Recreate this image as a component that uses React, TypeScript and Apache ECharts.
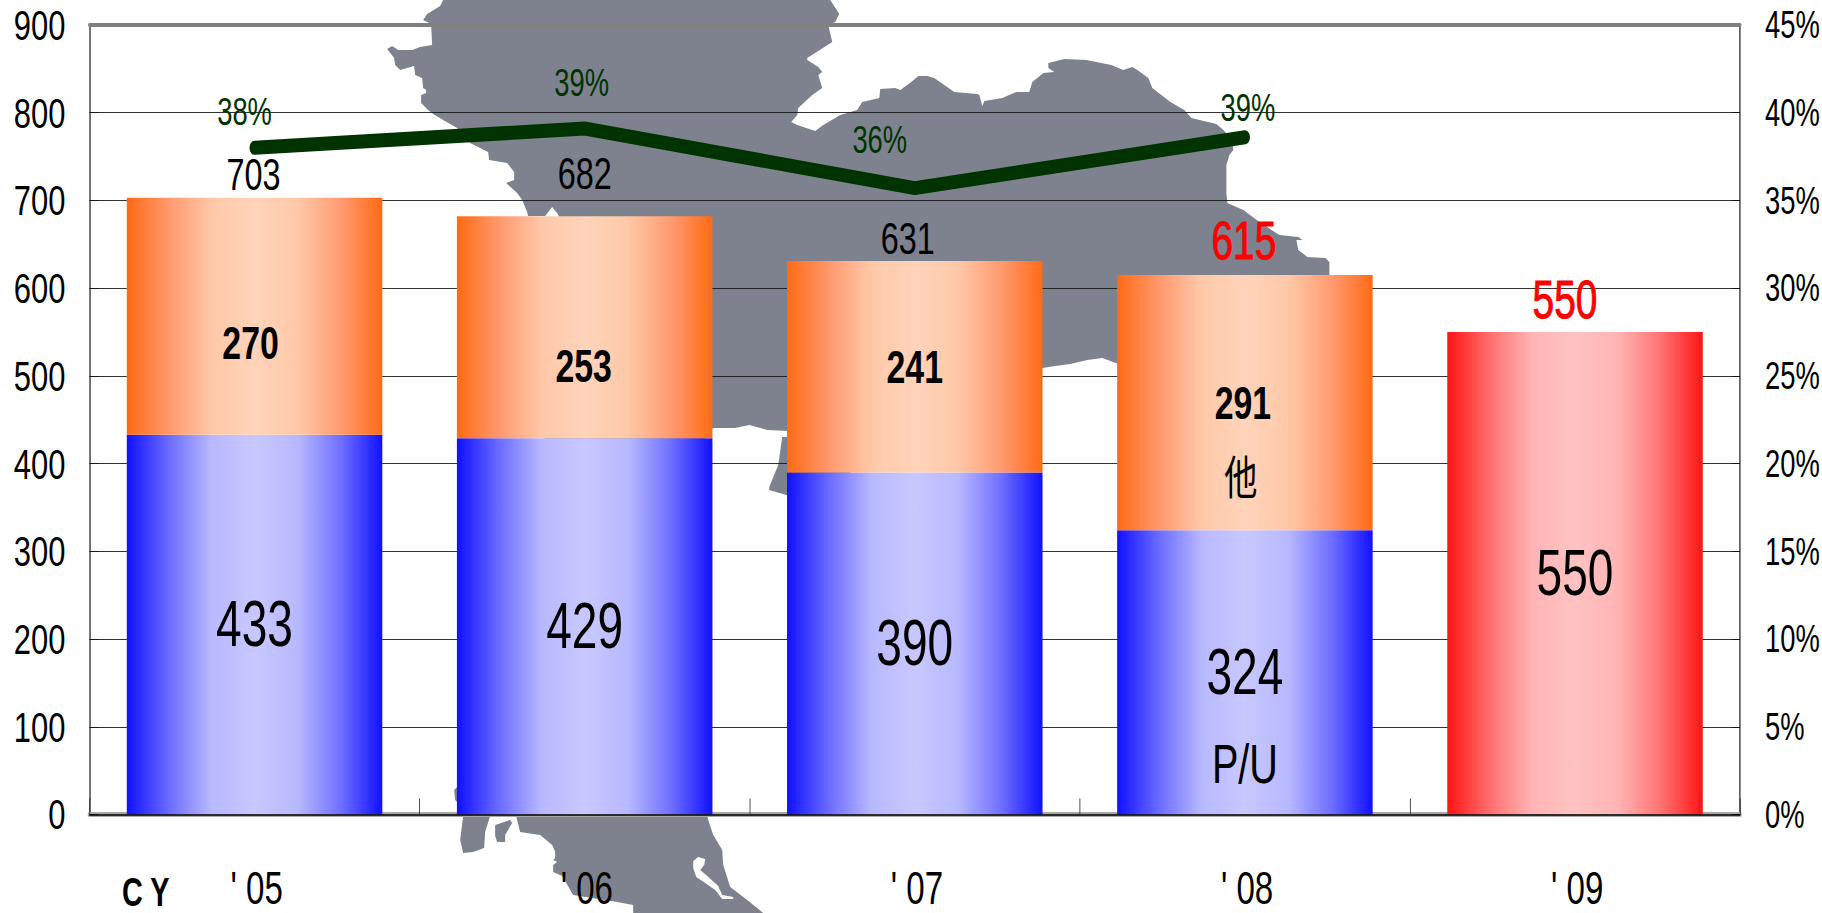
import React, { useEffect, useRef } from "react";
import * as echarts from "echarts";

const categories = ["' 05", "' 06", "' 07", "' 08", "' 09"];
const puValues = [433, 429, 390, 324, null];
const otherValues = [270, 253, 241, 291, null];
const forecastValues = [null, null, null, null, 550];
const totals = [703, 682, 631, 615, 550];
const ratioValues = [38, 39.1, 35.7, 38.6, null];
const ratioLabels = ["38%", "39%", "36%", "39%"];
const leftMax = 900;
const rightMax = 45;
const segmentNotes = [
  { text: "P/U", category: 3, value: 57 },
  { text: "他", category: 3, value: 384 },
];

// The reference is a horizontally squeezed picture: the chart is drawn wide and squeezed the same way.
const WIDE = 2530;
const SQUEEZE = 1822 / WIDE;
const sx = (px: number) => px / SQUEEZE;

const totalOffsets = [[-1, -23], [0, -43], [-7, -22], [-1, -35], [-10, -33]];
const otherOffsets = [[-4, 27], [-1, 39], [0, 0], [-2, 0]];
const ratioOffsets = [[-10, -36], [-3, -46], [-35, -48], [3, -29]];
const noteStyles = [
  { fontSize: 55, dx: 0 },
  { fontSize: 46, dx: -4 },
];

const mapOutline = [
  [443,0],[440,6],[427,14],[423,20],[431,24],[432,45],[420,47],[412,50],[398,50],[392,46],[387,49],[394,58],[395,65],[400,70],[407,68],[414,66],[415,75],[422,78],[423,88],[426,90],[426,93],[421,95],[421,103],[428,110],[433,114],[443,120],[457,128],[470,143],[488,152],[489,160],[507,163],[514,172],[514,180],[506,183],[517,193],[522,200],[527,212],[528,216],[545,216],[552,207],[557,213],[600,300],[520,500],[510,812],[516,816],[520,832],[540,835],[552,845],[555,852],[555,858],[553,860],[557,862],[553,865],[553,872],[562,876],[573,895],[617,902],[633,905],[633,913],[763,913],[747,900],[730,887],[723,865],[722,850],[713,835],[708,820],[707,816],[705,430],[714,428],[735,428],[749,425],[767,430],[789,431],[800,431],[789,437],[782,437],[779,458],[778,465],[769,487],[769,490],[786,495],[795,497],[900,450],[1042,368],[1055,366],[1070,364],[1087,360],[1102,358],[1118,364],[1200,400],[1329,278],[1329,262],[1325,258],[1307,257],[1298,250],[1296,240],[1302,240],[1298,237],[1279,235],[1259,222],[1243,210],[1227,203],[1226,193],[1226,165],[1229,155],[1233,150],[1232,140],[1223,130],[1216,124],[1191,118],[1184,110],[1170,102],[1152,88],[1148,78],[1137,70],[1132,67],[1123,70],[1111,65],[1086,60],[1064,59],[1048,63],[1048,68],[1054,72],[1043,73],[1032,82],[1029,92],[1016,92],[1002,98],[984,101],[982,106],[979,95],[977,94],[954,92],[934,78],[927,76],[918,76],[911,82],[900,90],[895,88],[880,89],[879,98],[862,102],[857,110],[840,115],[823,125],[815,131],[797,125],[791,122],[797,115],[798,108],[812,95],[822,88],[818,75],[822,72],[818,67],[807,60],[807,58],[832,42],[828,25],[835,22],[839,14],[830,0],
];
const mapIslands = [
  [[463,816],[460,840],[463,853],[473,852],[484,848],[485,832],[490,816]],
  [[495,825],[510,820],[512,823],[505,835],[505,842],[497,842],[495,836]],
  [[458,786],[454,790],[455,800],[458,803]],
];
const mapLake = [[693,861],[698,857],[705,859],[704,865],[700,870],[707,876],[718,886],[722,895],[733,897],[733,899],[722,899],[715,890],[705,883],[696,877],[693,868]];

const FONT = "'Liberation Sans', Arial, 'Noto Sans CJK JP', sans-serif";
const MAP = "#7d828e";

const hGrad = (edge: string, mid: string, soft: string, center: string) => ({
  type: "linear", x: 0, y: 0, x2: 1, y2: 0,
  colorStops: [
    { offset: 0, color: edge }, { offset: 0.17, color: mid }, { offset: 0.33, color: soft },
    { offset: 0.5, color: center }, { offset: 0.67, color: soft }, { offset: 0.84, color: mid },
    { offset: 1, color: edge },
  ],
});
const hidden = { color: "transparent", opacity: 1 };

export default function App() {
  const ref = useRef<HTMLDivElement>(null);
  useEffect(() => {
    const chart = echarts.init(ref.current!, undefined, { renderer: "svg" });
    const poly = (points: number[][], fill: string, z: number) => ({
      type: "polygon", scaleX: 1 / SQUEEZE, z, silent: true, shape: { points }, style: { fill },
    });
    chart.setOption({
      animation: false,
      backgroundColor: "#fff",
      grid: { left: sx(89.5), right: WIDE - sx(1744), top: 25, bottom: 98.5 },
      graphic: [
        poly(mapOutline, MAP, -3),
        ...mapIslands.map((p) => poly(p, MAP, -3)),
        poly(mapLake, "#fff", -2),
        {
          type: "text", x: sx(122), y: 872, z: 5,
          style: { text: "C Y", fontFamily: FONT, fontWeight: "bold", fontSize: 40, fill: "#000" },
        },
      ],
      xAxis: [
        {
          type: "category", data: categories, position: "bottom", z: 5,
          axisLine: { show: true, onZero: false, lineStyle: { color: "#000", width: 1.5 } },
          axisTick: { show: true, inside: true, length: 16, lineStyle: { color: "#333", width: 1 } },
          axisLabel: { margin: 50, fontFamily: FONT, fontSize: 46, color: "#000", padding: [0, 0, 0, 6] },
        },
        {
          type: "category", data: categories, position: "bottom", z: 0,
          axisLine: { show: true, onZero: false, lineStyle: { color: "#a8a8a8", width: 5 } },
          axisTick: { show: false }, axisLabel: { show: false },
        },
        {
          type: "category", data: categories, position: "top", z: 1,
          axisLine: { show: true, onZero: false, lineStyle: { color: "#808080", width: 4 } },
          axisTick: { show: false }, axisLabel: { show: false },
        },
      ],
      yAxis: [
        {
          type: "value", min: 0, max: leftMax, interval: 100, position: "left",
          axisLine: { show: true, lineStyle: { color: "#404040", width: 2 } },
          axisTick: { show: true, inside: true, length: 12, lineStyle: { color: "#111", width: 1 } },
          axisLabel: { margin: sx(24), fontFamily: FONT, fontSize: 43, color: "#000", padding: [6, 0, 0, 0] },
          splitLine: { show: true, lineStyle: { color: "#111", width: 1 } },
        },
        {
          type: "value", min: 0, max: rightMax, interval: 5, position: "right",
          axisLine: { show: true, lineStyle: { color: "#404040", width: 2 } },
          axisTick: { show: true, inside: true, length: 12, lineStyle: { color: "#111", width: 1 } },
          axisLabel: { margin: sx(25), fontFamily: FONT, fontSize: 38, color: "#000", formatter: "{value}%", padding: [6, 0, 0, 0] },
          splitLine: { show: false },
        },
      ],
      series: [
        {
          name: "P/U", type: "bar", stack: "t", barWidth: "77.4%", data: puValues,
          itemStyle: { color: hGrad("#1010ff", "#6e6eff", "#b8b8ff", "#c8c8ff") },
          label: { show: true, position: "inside", fontFamily: FONT, fontSize: 64, color: "#000" },
        },
        {
          name: "他", type: "bar", stack: "t", barWidth: "77.4%",
          data: otherValues.map((v, i) => ({
            value: v,
            label: otherOffsets[i] ? { offset: [sx(otherOffsets[i][0]), otherOffsets[i][1]] } : undefined,
          })),
          itemStyle: { color: hGrad("#ff6a14", "#ff9a70", "#ffc8a8", "#ffd4ba") },
          label: { show: true, position: "inside", fontFamily: FONT, fontWeight: "bold", fontSize: 47, color: "#000" },
        },
        {
          name: "計画", type: "bar", stack: "t", barWidth: "77.4%", data: forecastValues,
          itemStyle: { color: hGrad("#ff1414", "#ff7070", "#ffb4b4", "#ffc2c2") },
          label: { show: true, position: "inside", fontFamily: FONT, fontSize: 64, color: "#000" },
        },
        {
          name: "total", type: "scatter", symbolSize: 1, z: 6, itemStyle: hidden,
          data: totals.map((v, i) => ({
            value: [i, v],
            label: {
              show: true, position: "inside", formatter: String(v), fontFamily: FONT,
              offset: [sx(totalOffsets[i][0]), totalOffsets[i][1]],
              fontSize: i >= 3 ? 54 : 45, fontWeight: "normal",
              color: i >= 3 ? "#ff0000" : "#000",
              textBorderColor: i >= 3 ? "#ff0000" : "transparent",
              textBorderWidth: i >= 3 ? 1 : 0,
            },
          })),
        },
        {
          name: "notes", type: "scatter", symbolSize: 1, z: 6, itemStyle: hidden,
          data: segmentNotes.map((n, i) => ({
            value: [n.category, n.value],
            label: {
              show: true, position: "inside", fontFamily: FONT, color: "#000", formatter: n.text,
              fontSize: noteStyles[i].fontSize, offset: [sx(noteStyles[i].dx), 0],
            },
          })),
        },
        {
          name: "ratio", type: "line", yAxisIndex: 1, z: 5, symbol: "none",
          lineStyle: { color: "#003300", width: 14, cap: "round", join: "bevel" },
          data: ratioValues,
        },
        {
          name: "ratioLabels", type: "scatter", yAxisIndex: 1, symbolSize: 1, z: 6, itemStyle: hidden,
          data: ratioLabels.map((t, i) => ({
            value: [i, ratioValues[i]],
            label: {
              show: true, position: "inside", formatter: t, fontFamily: FONT, fontSize: 38, color: "#003300",
              offset: [sx(ratioOffsets[i][0]), ratioOffsets[i][1]],
            },
          })),
        },
      ],
    });
    return () => chart.dispose();
  }, []);
  return (
    <div style={{ position: "fixed", left: 0, top: 0, width: 1822, height: 913, overflow: "hidden", background: "#fff" }}>
      <div ref={ref} style={{ width: WIDE, height: 913, transform: `scaleX(${SQUEEZE})`, transformOrigin: "0 0" }} />
    </div>
  );
}
